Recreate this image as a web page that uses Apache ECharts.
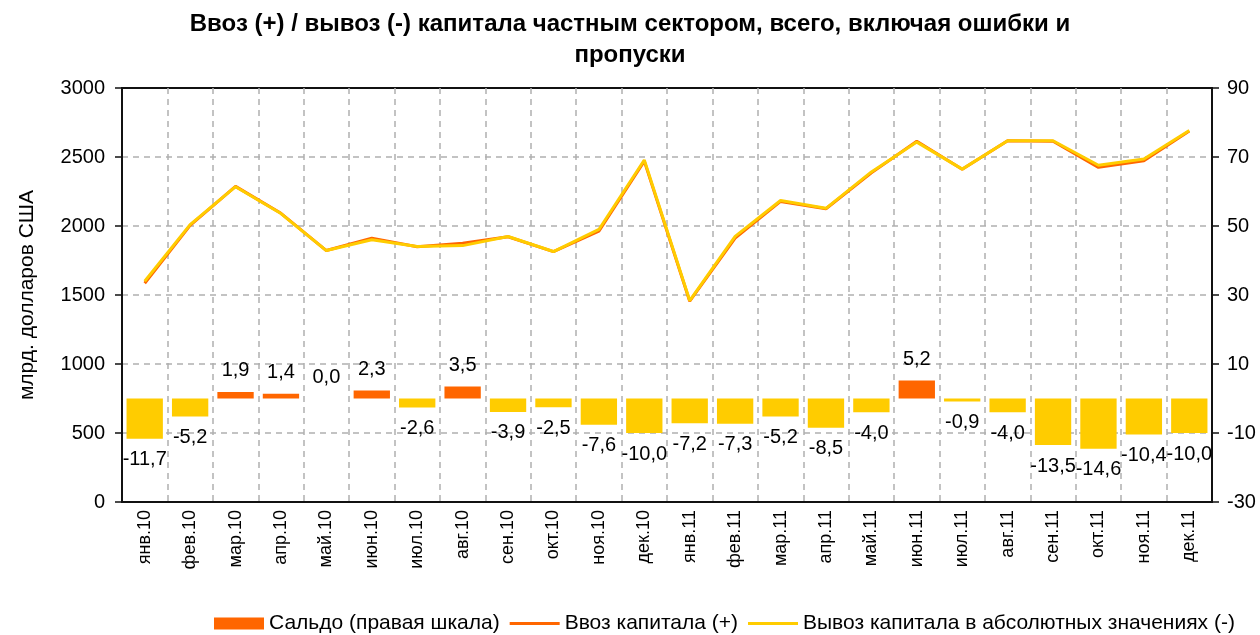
<!DOCTYPE html>
<html>
<head>
<meta charset="utf-8">
<script src="https://cdn.jsdelivr.net/npm/echarts@6/dist/echarts.min.js"></script>
<style>
html,body{margin:0;padding:0;background:#fff;}
#chart{width:1260px;height:635px;}
</style>
</head>
<body>
<div id="chart"></div>
<script>
const categories = ['янв.10','фев.10','мар.10','апр.10','май.10','июн.10','июл.10','авг.10','сен.10','окт.10','ноя.10','дек.10','янв.11','фев.11','мар.11','апр.11','май.11','июн.11','июл.11','авг.11','сен.11','окт.11','ноя.11','дек.11'];
const saldo = [-11.7,-5.2,1.9,1.4,0.0,2.3,-2.6,3.5,-3.9,-2.5,-7.6,-10.0,-7.2,-7.3,-5.2,-8.5,-4.0,5.2,-0.9,-4.0,-13.5,-14.6,-10.4,-10.0];
const vvoz = [1585,2005,2287,2092,1822,1912,1850,1875,1922,1814,1962,2470,1455,1912,2178,2125,2385,2614,2411,2618,2614,2425,2472,2688];
const vyvoz = [1600,2010,2285,2090,1822,1900,1852,1858,1924,1815,1975,2478,1460,1925,2185,2128,2392,2608,2412,2618,2618,2440,2486,2692];
const leftTicks = {min:0, max:3000, interval:500};
const rightTicks = {min:-30, max:90, interval:20};

const ORANGE = '#FF6600', YELLOW = '#FFCC00';
const FONT = 'Liberation Sans';
const GRID = {color: '#b0b0b0', type: [6, 5], width: 1.5};

const barData = saldo.map(v => ({
  value: v,
  itemStyle: {color: v > 0 ? ORANGE : YELLOW},
  label: {position: v < 0 ? 'bottom' : 'top'}
}));

const LINE_ICON = 'path://M0,0 L50,0 L50,3 L0,3 Z';

const chart = echarts.init(document.getElementById('chart'), null, {renderer:'canvas'});
chart.setOption({
  animation: false,
  backgroundColor: '#fff',
  title: {
    text: 'Ввоз (+) / вывоз (-) капитала частным сектором, всего, включая ошибки и\nпропуски',
    left: 'center', top: 4,
    textStyle: {fontFamily: FONT, fontWeight: 'bold', fontSize: 24, lineHeight: 31, color: '#000'}
  },
  legend: {
    left: 209, top: 608,
    itemWidth: 50, itemHeight: 12, itemGap: 10,
    textStyle: {fontFamily: FONT, fontSize: 21, color: '#000'},
    data: [
      {name: 'Сальдо (правая шкала)', icon: 'rect'},
      {name: 'Ввоз капитала (+)', icon: LINE_ICON},
      {name: 'Вывоз капитала в абсолютных значениях (-)', icon: LINE_ICON}
    ]
  },
  grid: {left: 122, right: 48, top: 88, bottom: 133, show: true, borderColor: '#111', borderWidth: 2,
    containLabel: false, outerBoundsMode: 'none'},
  xAxis: {
    type: 'category', data: categories, boundaryGap: true,
    axisLine: {show: true, lineStyle: {color: '#111', width: 2}},
    axisTick: {show: false},
    axisLabel: {rotate: 90, fontFamily: FONT, fontSize: 18, color: '#000', margin: 8, interval: 0},
    splitLine: {show: true, interval: 0, showMinLine: false, showMaxLine: false, lineStyle: GRID}
  },
  yAxis: [
    {
      type: 'value', min: leftTicks.min, max: leftTicks.max, interval: leftTicks.interval,
      name: 'млрд. долларов США', nameLocation: 'middle', nameGap: 84, nameRotate: 90,
      nameTextStyle: {fontFamily: FONT, fontSize: 21, color: '#000'},
      axisLine: {show: true, lineStyle: {color: '#111', width: 2}},
      axisTick: {show: true, length: 7, lineStyle: {color: '#111', width: 1.5}},
      axisLabel: {fontFamily: FONT, fontSize: 20, color: '#000', margin: 17, formatter: v => String(v)},
      splitLine: {show: true, showMinLine: false, showMaxLine: false, lineStyle: GRID}
    },
    {
      type: 'value', min: rightTicks.min, max: rightTicks.max, interval: rightTicks.interval,
      position: 'right',
      axisLine: {show: true, lineStyle: {color: '#111', width: 2}},
      axisTick: {show: true, length: 7, lineStyle: {color: '#111', width: 1.5}},
      axisLabel: {fontFamily: FONT, fontSize: 20, color: '#000', margin: 15},
      splitLine: {show: false}
    }
  ],
  series: [
    {
      name: 'Сальдо (правая шкала)', type: 'bar', yAxisIndex: 1,
      data: barData, barCategoryGap: '20%',
      itemStyle: {color: ORANGE},
      label: {show: true, distance: 11, fontFamily: FONT, fontSize: 20, color: '#000',
        formatter: p => p.value.toFixed(1).replace('.', ',')},
      z: 2
    },
    {
      name: 'Ввоз капитала (+)', type: 'line', yAxisIndex: 0, data: vvoz,
      symbol: 'none', showSymbol: false,
      lineStyle: {color: ORANGE, width: 3}, itemStyle: {color: ORANGE}, z: 3
    },
    {
      name: 'Вывоз капитала в абсолютных значениях (-)', type: 'line', yAxisIndex: 0, data: vyvoz,
      symbol: 'none', showSymbol: false,
      lineStyle: {color: YELLOW, width: 3}, itemStyle: {color: YELLOW}, z: 4
    }
  ]
});
</script>
</body>
</html>
